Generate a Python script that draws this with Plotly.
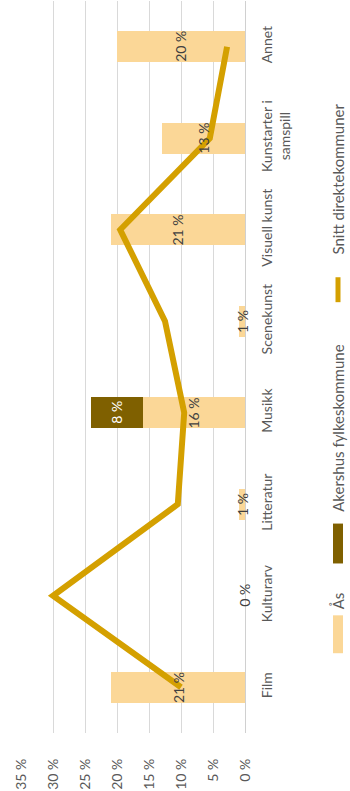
import plotly.graph_objects as go

# Share of funding per art form
categories = ["Film", "Kulturarv", "Litteratur", "Musikk", "Scenekunst",
              "Visuell kunst", "Kunstarter i<br>samspill", "Annet"]
aas = [0.21, 0.00, 0.01, 0.16, 0.01, 0.21, 0.13, 0.20]
akershus = [None, None, None, 0.08, None, None, None, None]
snitt = [0.10, 0.30, 0.105, 0.095, 0.125, 0.195, 0.055, 0.028]

pct_ticks = [0, 0.05, 0.10, 0.15, 0.20, 0.25, 0.30, 0.35]
pct_tick_labels = ["0 %", "5 %", "10 %", "15 %", "20 %", "25 %", "30 %", "35 %"]

series_names = ["Ås", "Akershus fylkeskommune", "Snitt direktekommuner"]

W, H = 350, 791
ML, MR, MT, MB = 21, 105, 1, 56
FONT = "Lato, 'Open Sans', sans-serif"
C_AAS = "#FBD797"
C_AK = "#7F6000"
C_LINE = "#D4A000"
TXT = "#595959"

fig = go.Figure()
fig.add_trace(go.Bar(y=categories, x=aas, orientation="h", name=series_names[0],
                     marker=dict(color=C_AAS, line=dict(width=0)), showlegend=False))
fig.add_trace(go.Bar(y=categories, x=akershus, orientation="h", name=series_names[1],
                     marker=dict(color=C_AK, line=dict(width=0)), showlegend=False))
fig.add_trace(go.Scatter(y=categories, x=snitt, mode="lines", name=series_names[2],
                         line=dict(color=C_LINE, width=6), showlegend=False))

# value labels centred in each bar segment, rotated with the chart
annotations = []
for cat, v in zip(categories, aas):
    annotations.append(dict(x=v / 2, y=cat, xref="x", yref="y", text=f"{round(v * 100)} %",
                            textangle=-90, showarrow=False,
                            font=dict(family=FONT, size=14, color="#404040")))
for cat, base, v in zip(categories, aas, akershus):
    if v is not None:
        annotations.append(dict(x=base + v / 2, y=cat, xref="x", yref="y",
                                text=f"{round(v * 100)} %", textangle=-90, showarrow=False,
                                font=dict(family=FONT, size=14, color="white")))

pw = W - ML - MR
ph = H - MT - MB


def px_x(px):
    return (px - ML) / pw


def px_y(py):
    return (H - MB - py) / ph


# rotated legend: swatch below its label, reading bottom to top
leg_x = 338
shapes = [
    dict(type="rect", xref="paper", yref="paper", x0=px_x(leg_x - 5), x1=px_x(leg_x + 5),
         y0=px_y(655), y1=px_y(617), fillcolor=C_AAS, line=dict(width=0)),
    dict(type="rect", xref="paper", yref="paper", x0=px_x(leg_x - 5), x1=px_x(leg_x + 5),
         y0=px_y(565), y1=px_y(525), fillcolor=C_AK, line=dict(width=0)),
    dict(type="line", xref="paper", yref="paper", x0=px_x(leg_x), x1=px_x(leg_x),
         y0=px_y(303), y1=px_y(278), line=dict(color=C_LINE, width=5)),
]
legend_items = [(series_names[0], 603), (series_names[1], 430), (series_names[2], 180)]
for name, cy in legend_items:
    annotations.append(dict(x=px_x(leg_x), y=px_y(cy), xref="paper", yref="paper",
                            text=name, textangle=-90, showarrow=False,
                            xanchor="center", yanchor="middle",
                            font=dict(family=FONT, size=15, color=TXT)))

fig.update_layout(
    width=W, height=H,
    margin=dict(l=ML, r=MR, t=MT, b=MB),
    paper_bgcolor="white", plot_bgcolor="white",
    barmode="stack", bargap=0.66,
    font=dict(family=FONT, size=14, color=TXT),
    annotations=annotations, shapes=shapes,
    xaxis=dict(range=[0.35, 0], tickvals=pct_ticks, ticktext=pct_tick_labels,
               tickangle=-90, showgrid=True, gridcolor="#D9D9D9", gridwidth=1,
               zeroline=True, zerolinecolor="#D0D0D0", zerolinewidth=1,
               showline=False, ticks="", ticklabelstandoff=22,
               tickfont=dict(family=FONT, size=14, color=TXT), fixedrange=True),
    yaxis=dict(side="right", tickangle=-90, range=[-0.5, 7.5], showgrid=False,
               zeroline=False, showline=False, ticks="", ticklabelstandoff=12,
               tickfont=dict(family=FONT, size=14, color=TXT), fixedrange=True),
)

fig.write_html("out.html")
